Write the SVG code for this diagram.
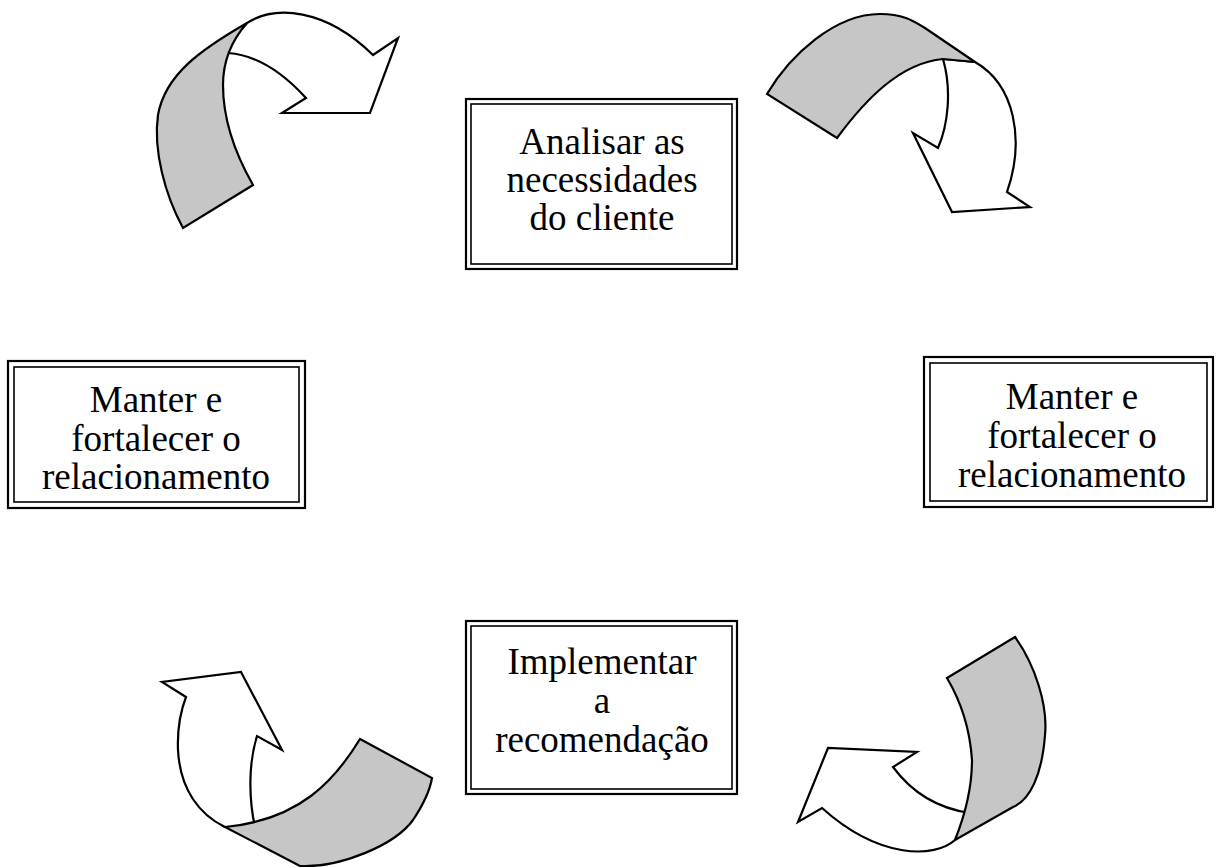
<svg xmlns="http://www.w3.org/2000/svg" width="1218" height="867" viewBox="0 0 1218 867">
<style>
.bg{fill:#ffffff}
.outer{fill:#ffffff;stroke:#000;stroke-width:2.2}
.inner{fill:none;stroke:#000;stroke-width:1.6}
.lbl{font-family:"Liberation Serif","Times New Roman",serif;font-size:37px;fill:#000;text-anchor:middle}
.body{fill:#ffffff;stroke:#000;stroke-width:2.2;stroke-linejoin:miter}
.shade{fill:#c6c6c6;stroke:#000;stroke-width:2.2;stroke-linejoin:miter}
</style>
<rect class="bg" x="0" y="0" width="1218" height="867"/>
<g id="connectors">
  <g id="arrow-top-left">
    <path class="body" d="M247,23 C275,5 325,8 373,55 L398,38 L370,113 L282,113 L306,98 C285,75 258,55 228,53 C231,42 238,32 247,23 Z"/>
    <path class="shade" d="M247,23 C200,50 165,75 158,115 C153,150 165,195 183,228 L253,185 C233,150 223,115 223,85 C223,60 232,40 247,23 Z"/>
  </g>
  <g id="arrow-top-right">
    <path class="body" d="M943,59 C952,90 948,125 938,148 L913,133 L952,212 L1030,207 L1007,192 C1025,140 1015,85 975,62 Z"/>
    <path class="shade" d="M767,94 C790,55 835,14 880,14 C905,14 915,22 925,28 L975,62 L943,59 C900,63 865,100 837,138 Z"/>
  </g>
  <g id="arrow-bottom-left">
    <path class="body" d="M186,697 L162,682 L241,672 L282,750 L257,736 C248,765 249,800 255,827 L225,827 C200,815 180,790 178,750 C177,725 181,710 186,697 Z"/>
    <path class="shade" d="M225,827 L300,866 C340,868 395,845 413,820 C423,805 430,790 432,778 L360,739 C335,780 300,820 225,827 Z"/>
  </g>
  <g id="arrow-bottom-right">
    <path class="body" d="M955,840 C935,858 880,860 822,808 L798,822 L828,748 L917,752 L893,767 C910,790 935,808 970,813 C968,825 962,833 955,840 Z"/>
    <path class="shade" d="M947,678 L1015,637 C1035,665 1048,705 1045,735 C1042,775 1030,800 1013,807 L955,840 C965,815 972,790 972,760 C970,730 963,705 947,678 Z"/>
  </g>
</g>
<g id="node-analisar">
  <rect class="outer" x="466" y="99" width="271" height="170"/>
  <rect class="inner" x="471" y="104" width="261" height="160"/>
  <text class="lbl" x="602" y="154">Analisar as</text>
  <text class="lbl" x="602" y="192">necessidades</text>
  <text class="lbl" x="602" y="230">do cliente</text>
</g>
<g id="node-manter-left">
  <rect class="outer" x="8" y="361" width="297" height="147"/>
  <rect class="inner" x="14" y="367" width="285" height="135"/>
  <text class="lbl" x="156" y="412">Manter e</text>
  <text class="lbl" x="156" y="451">fortalecer o</text>
  <text class="lbl" x="156" y="489">relacionamento</text>
</g>
<g id="node-manter-right">
  <rect class="outer" x="924" y="357" width="289" height="150"/>
  <rect class="inner" x="930" y="363" width="277" height="138"/>
  <text class="lbl" x="1072" y="409">Manter e</text>
  <text class="lbl" x="1072" y="448">fortalecer o</text>
  <text class="lbl" x="1072" y="487">relacionamento</text>
</g>
<g id="node-implementar">
  <rect class="outer" x="466" y="621" width="271" height="173"/>
  <rect class="inner" x="471" y="626" width="261" height="163"/>
  <text class="lbl" x="602" y="674">Implementar</text>
  <text class="lbl" x="602" y="713">a</text>
  <text class="lbl" x="602" y="752">recomendação</text>
</g>
</svg>
